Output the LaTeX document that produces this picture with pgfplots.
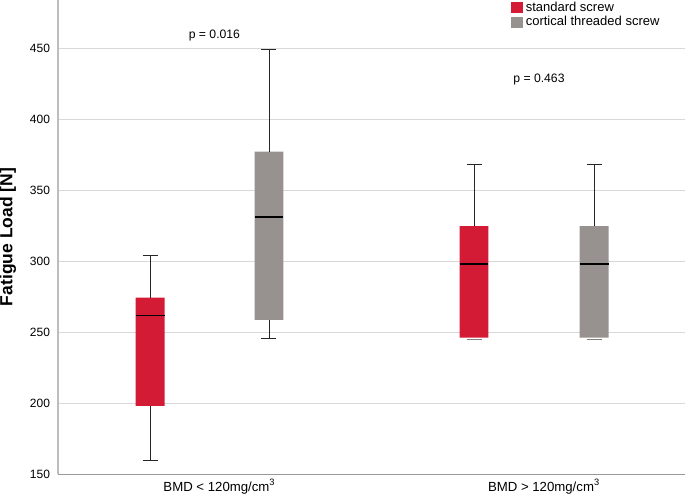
\documentclass[border=0pt]{standalone}
\usepackage{fontspec}
\setmainfont{Liberation Sans}
\usepackage{pgfplots}
\pgfplotsset{compat=1.18}
\definecolor{myred}{HTML}{D31B35}
\definecolor{mygray}{HTML}{97928F}
\definecolor{gridgray}{HTML}{D8D8D8}
\definecolor{axgray}{HTML}{BDBDBD}
\begin{document}
\begin{tikzpicture}
\begin{axis}[
  scale only axis,
  width=313.5pt, height=237pt,
  xmin=0.533, xmax=2.465,
  ymin=150, ymax=483.8,
  axis x line=bottom, axis y line=left,
  axis line style={-},
  x axis line style={color=gray!80, line width=0.4pt},
  y axis line style={color=axgray, line width=1pt},
  xtick={1,2},
  xticklabels={BMD < 120mg/cm\textsuperscript{3}, BMD > 120mg/cm\textsuperscript{3}},
  xticklabel style={xshift=5pt, yshift=1.6pt, font=\fontsize{6.6}{7.5}\selectfont},
  ytick={150,200,250,300,350,400,450},
  ymajorgrids,
  grid style={color=gridgray, line width=0.45pt},
  major tick length=1pt,
  tick style={draw=none},
  /pgf/number format/assume math mode=true,
  yticklabel style={font=\fontsize{6}{7}\selectfont},
  ylabel={Fatigue Load [N]},
  ylabel style={font=\fontsize{8.75}{10}\selectfont\bfseries},
  legend cell align=left,
  legend style={at={(rel axis cs:0.7225,1.0)}, anchor=north west, draw=none, fill=none,
     inner sep=0pt, font=\fontsize{6.5}{7.5}\selectfont, nodes={inner sep=0.6pt}},
  legend image code/.code={\fill[#1, draw=none] (0pt,-2.8pt) rectangle (5.6pt,2.8pt); \path (6.6pt,0pt);},
]
\addlegendimage{fill=myred, draw=none}
\addlegendentry{standard screw}
\addlegendimage{fill=mygray, draw=none}
\addlegendentry{cortical threaded screw}

% boxes (Q1 to Q3)
\addplot[forget plot, fill=myred, draw=none] coordinates {(0.7725,197.9) (0.8615,197.9) (0.8615,274.2) (0.7725,274.2) (0.7725,197.9)};
\addplot[forget plot, fill=mygray, draw=none] coordinates {(1.1385,258.5) (1.2275,258.5) (1.2275,377.0) (1.1385,377.0) (1.1385,258.5)};
\addplot[forget plot, fill=myred, draw=none] coordinates {(1.7705,246.0) (1.8595,246.0) (1.8595,324.6) (1.7705,324.6) (1.7705,246.0)};
\addplot[forget plot, fill=mygray, draw=none] coordinates {(2.1405,246.0) (2.2295,246.0) (2.2295,324.6) (2.1405,324.6) (2.1405,246.0)};

% whiskers
\addplot[forget plot, black!85, line width=0.4pt] coordinates {(0.817,274.2) (0.817,303.7)};
\addplot[forget plot, black!85, line width=0.4pt] coordinates {(0.794,303.7) (0.840,303.7)};
\addplot[forget plot, black!85, line width=0.4pt] coordinates {(0.817,197.9) (0.817,159.9)};
\addplot[forget plot, black!85, line width=0.4pt] coordinates {(0.794,159.9) (0.840,159.9)};

\addplot[forget plot, black!85, line width=0.4pt] coordinates {(1.183,377.0) (1.183,449.0)};
\addplot[forget plot, black!85, line width=0.4pt] coordinates {(1.160,449.0) (1.206,449.0)};
\addplot[forget plot, black!85, line width=0.4pt] coordinates {(1.183,258.5) (1.183,245.5)};
\addplot[forget plot, black!85, line width=0.4pt] coordinates {(1.160,245.5) (1.206,245.5)};

\addplot[forget plot, black!85, line width=0.4pt] coordinates {(1.815,324.6) (1.815,368.3)};
\addplot[forget plot, black!85, line width=0.4pt] coordinates {(1.792,368.3) (1.838,368.3)};
\addplot[forget plot, gray, line width=0.4pt] coordinates {(1.792,244.8) (1.838,244.8)};

\addplot[forget plot, black!85, line width=0.4pt] coordinates {(2.185,324.6) (2.185,368.3)};
\addplot[forget plot, black!85, line width=0.4pt] coordinates {(2.162,368.3) (2.208,368.3)};
\addplot[forget plot, gray, line width=0.4pt] coordinates {(2.162,244.8) (2.208,244.8)};

% medians
\addplot[forget plot, black, line width=0.8pt] coordinates {(0.7725,261.5) (0.8615,261.5)};
\addplot[forget plot, black, line width=0.8pt] coordinates {(1.1385,331.0) (1.2275,331.0)};
\addplot[forget plot, black, line width=0.8pt] coordinates {(1.7705,297.9) (1.8595,297.9)};
\addplot[forget plot, black, line width=0.8pt] coordinates {(2.1405,297.9) (2.2295,297.9)};

\node[font=\fontsize{6.1}{7}\selectfont] at (axis cs:1.015,459) {p = 0.016};
\node[font=\fontsize{6.1}{7}\selectfont] at (axis cs:2.015,428) {p = 0.463};
\end{axis}
\pgfresetboundingbox
\path[use as bounding box] ([xshift=-29pt,yshift=-10pt]current axis.south west) rectangle (current axis.north east);
\end{tikzpicture}
\end{document}
